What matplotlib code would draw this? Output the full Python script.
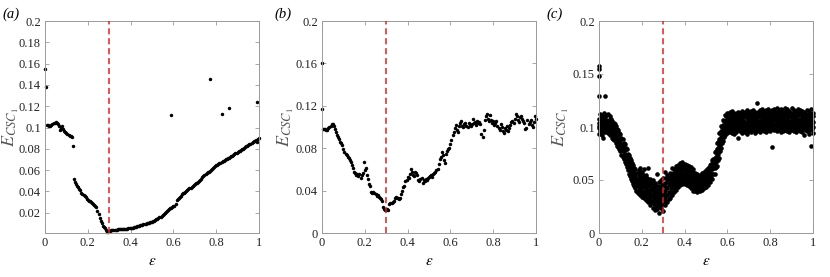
import numpy as np
import matplotlib
matplotlib.use("Agg")
import matplotlib.pyplot as plt

plt.rcParams['font.family'] = ['Liberation Serif', 'DejaVu Serif']
plt.rcParams['mathtext.fontset'] = 'stix'

# epsilon grid used for panels (a) and (b)
eps = np.round(np.linspace(0, 1, 201), 3)

# panel (a)
err_a = [0.155, 0.138, 0.102, 0.102, 0.101, 0.101, 0.102, 0.103, 0.104, 0.104,
         0.105, 0.104, 0.103, 0.101, 0.098, 0.100, 0.101, 0.099, 0.097, 0.096,
         0.095, 0.094, 0.093, 0.092, 0.092, 0.091, 0.083, 0.052, 0.049, 0.047,
         0.045, 0.044, 0.042, 0.041, 0.039, 0.038, 0.037, 0.036, 0.035, 0.033,
         0.032, 0.031, 0.031, 0.030, 0.029, 0.028, 0.027, 0.026, 0.025, 0.022,
         0.019, 0.015, 0.012, 0.010, 0.008, 0.007, 0.006, 0.004, 0.002, 0.0015,
         0.0030, 0.0031, 0.0035, 0.0036, 0.0039, 0.0040, 0.0041, 0.0042, 0.0044, 0.0045,
         0.0045, 0.0046, 0.0047, 0.0048, 0.0048, 0.0049, 0.0051, 0.0052, 0.0053, 0.0055,
         0.0056, 0.0058, 0.0060, 0.0063, 0.0066, 0.0069, 0.0072, 0.0076, 0.0079, 0.0082,
         0.0085, 0.0088, 0.0091, 0.0094, 0.0097, 0.0100, 0.0103, 0.0107, 0.0110, 0.0113,
         0.0116, 0.0121, 0.0126, 0.0131, 0.0137, 0.0143, 0.0149, 0.0156, 0.0163, 0.0170,
         0.0178, 0.0186, 0.0195, 0.0205, 0.0215, 0.0223, 0.0232, 0.0241, 0.0249, 0.0255,
         0.0260, 0.0268, 0.0285, 0.0318, 0.0325, 0.0335, 0.0350, 0.0362, 0.0372, 0.0382,
         0.0390, 0.0398, 0.0406, 0.0414, 0.0421, 0.0428, 0.0435, 0.0443, 0.0450, 0.0458,
         0.0466, 0.0475, 0.0484, 0.0493, 0.0502, 0.0512, 0.0521, 0.0531, 0.0541, 0.0551,
         0.0560, 0.0569, 0.0578, 0.0587, 0.0596, 0.0605, 0.0614, 0.0623, 0.0632, 0.0640,
         0.0647, 0.0652, 0.0660, 0.0665, 0.0671, 0.0676, 0.0682, 0.0688, 0.0694, 0.0700,
         0.0706, 0.0712, 0.0718, 0.0725, 0.0731, 0.0737, 0.0744, 0.0751, 0.0758, 0.0764,
         0.0770, 0.0776, 0.0783, 0.0790, 0.0797, 0.0803, 0.0810, 0.0817, 0.0823, 0.0830,
         0.0837, 0.0843, 0.0850, 0.0857, 0.0864, 0.0871, 0.0878, 0.0886, 0.0862, 0.0895,
         0.0906]
out_a_x = [0.59, 0.77, 0.825, 0.86, 0.99]
out_a_y = [0.112, 0.146, 0.113, 0.118, 0.124]

# panel (b)
err_b = [0.117, 0.098, 0.098, 0.098, 0.097, 0.097, 0.099, 0.100, 0.101, 0.103,
         0.103, 0.101, 0.098, 0.095, 0.092, 0.091, 0.089, 0.086, 0.085, 0.083,
         0.079, 0.076, 0.075, 0.074, 0.072, 0.071, 0.069, 0.067, 0.064, 0.061,
         0.058, 0.057, 0.055, 0.056, 0.054, 0.056, 0.052, 0.055, 0.057, 0.067,
         0.059, 0.061, 0.055, 0.051, 0.046, 0.044, 0.039, 0.038, 0.039, 0.038,
         0.037, 0.035, 0.036, 0.034, 0.033, 0.032, 0.030, 0.025, 0.023, 0.022,
         0.022, 0.023, 0.022, 0.027, 0.028, 0.028, 0.029, 0.030, 0.033, 0.034,
         0.033, 0.033, 0.032, 0.033, 0.037, 0.040, 0.043, 0.044, 0.049, 0.050,
         0.053, 0.052, 0.056, 0.060, 0.058, 0.055, 0.054, 0.058, 0.057, 0.055,
         0.050, 0.049, 0.051, 0.052, 0.047, 0.050, 0.049, 0.051, 0.050, 0.052,
         0.053, 0.054, 0.055, 0.053, 0.056, 0.057, 0.058, 0.059, 0.060, 0.065,
         0.070, 0.072, 0.076, 0.074, 0.069, 0.066, 0.075, 0.077, 0.079, 0.080,
         0.084, 0.088, 0.092, 0.095, 0.099, 0.102, 0.097, 0.095, 0.101, 0.104,
         0.106, 0.101, 0.100, 0.103, 0.104, 0.101, 0.100, 0.104, 0.102, 0.101,
         0.103, 0.108, 0.104, 0.105, 0.102, 0.106, 0.104, 0.105, 0.103, 0.093,
         0.091, 0.097, 0.107, 0.110, 0.112, 0.108, 0.106, 0.111, 0.107, 0.104,
         0.106, 0.102, 0.104, 0.106, 0.101, 0.099, 0.097, 0.103, 0.100, 0.096,
         0.094, 0.099, 0.097, 0.101, 0.096, 0.099, 0.102, 0.105, 0.106, 0.104,
         0.108, 0.112, 0.110, 0.107, 0.105, 0.109, 0.110, 0.108, 0.106, 0.104,
         0.098, 0.099, 0.107, 0.103, 0.105, 0.107, 0.102, 0.100, 0.105, 0.110,
         0.108]
out_b_x = [0.0]
out_b_y = [0.160]

# panel (c): several realisations per epsilon value
eps_c = np.round(np.linspace(0, 1, 101), 2)
err_c = [
    [0.093, 0.099, 0.104, 0.108, 0.101], [0.094, 0.100, 0.105, 0.110, 0.097],
    [0.096, 0.101, 0.107, 0.111, 0.090], [0.095, 0.100, 0.104, 0.109, 0.098],
    [0.094, 0.099, 0.105, 0.112, 0.101], [0.092, 0.097, 0.103, 0.110, 0.100],
    [0.090, 0.095, 0.101, 0.106, 0.098], [0.088, 0.093, 0.099, 0.104, 0.096],
    [0.085, 0.090, 0.096, 0.101, 0.093], [0.081, 0.086, 0.092, 0.097, 0.089],
    [0.077, 0.082, 0.088, 0.093, 0.085], [0.072, 0.077, 0.083, 0.089, 0.080],
    [0.067, 0.072, 0.078, 0.084, 0.075], [0.062, 0.067, 0.073, 0.079, 0.070],
    [0.056, 0.062, 0.068, 0.074, 0.065], [0.051, 0.057, 0.063, 0.069, 0.060],
    [0.046, 0.052, 0.058, 0.064, 0.055], [0.042, 0.048, 0.054, 0.060, 0.051],
    [0.038, 0.044, 0.050, 0.057, 0.047], [0.036, 0.042, 0.048, 0.055, 0.061],
    [0.034, 0.040, 0.046, 0.052, 0.058], [0.033, 0.039, 0.045, 0.051, 0.060],
    [0.031, 0.037, 0.043, 0.049, 0.055], [0.029, 0.035, 0.041, 0.047, 0.061],
    [0.026, 0.032, 0.038, 0.044, 0.051], [0.024, 0.030, 0.036, 0.042, 0.050],
    [0.022, 0.029, 0.035, 0.041, 0.047], [0.023, 0.029, 0.035, 0.041, 0.056],
    [0.019, 0.028, 0.034, 0.040, 0.048], [0.024, 0.030, 0.036, 0.042, 0.050],
    [0.021, 0.031, 0.037, 0.044, 0.052], [0.026, 0.033, 0.040, 0.047, 0.058],
    [0.029, 0.036, 0.042, 0.049, 0.055], [0.033, 0.039, 0.045, 0.051, 0.057],
    [0.036, 0.042, 0.048, 0.054, 0.061], [0.039, 0.045, 0.050, 0.056, 0.060],
    [0.041, 0.047, 0.052, 0.058, 0.063], [0.043, 0.049, 0.054, 0.059, 0.064],
    [0.045, 0.050, 0.055, 0.060, 0.066], [0.046, 0.051, 0.056, 0.061, 0.067],
    [0.046, 0.051, 0.056, 0.061, 0.065], [0.045, 0.050, 0.055, 0.060, 0.064],
    [0.044, 0.049, 0.054, 0.059, 0.063], [0.042, 0.047, 0.052, 0.057, 0.062],
    [0.040, 0.045, 0.050, 0.055, 0.060], [0.040, 0.044, 0.049, 0.053, 0.057],
    [0.039, 0.043, 0.048, 0.052, 0.056], [0.040, 0.044, 0.048, 0.052, 0.055],
    [0.041, 0.045, 0.049, 0.053, 0.057], [0.042, 0.046, 0.050, 0.054, 0.058],
    [0.043, 0.047, 0.051, 0.055, 0.059], [0.045, 0.049, 0.053, 0.057, 0.061],
    [0.048, 0.052, 0.056, 0.060, 0.064], [0.051, 0.056, 0.060, 0.065, 0.069],
    [0.056, 0.061, 0.066, 0.071, 0.076], [0.063, 0.069, 0.074, 0.079, 0.085],
    [0.071, 0.077, 0.083, 0.089, 0.094], [0.080, 0.086, 0.091, 0.096, 0.101],
    [0.087, 0.092, 0.097, 0.102, 0.107], [0.092, 0.097, 0.101, 0.106, 0.111],
    [0.094, 0.099, 0.103, 0.108, 0.113], [0.095, 0.100, 0.104, 0.109, 0.114],
    [0.094, 0.100, 0.105, 0.110, 0.115], [0.093, 0.099, 0.104, 0.108, 0.113],
    [0.095, 0.100, 0.104, 0.109, 0.112], [0.090, 0.099, 0.104, 0.108, 0.114],
    [0.096, 0.100, 0.105, 0.110, 0.113], [0.094, 0.099, 0.104, 0.109, 0.115],
    [0.095, 0.101, 0.105, 0.110, 0.114], [0.093, 0.100, 0.105, 0.109, 0.116],
    [0.096, 0.101, 0.106, 0.110, 0.114], [0.095, 0.100, 0.105, 0.111, 0.115],
    [0.097, 0.101, 0.106, 0.110, 0.116], [0.094, 0.100, 0.105, 0.109, 0.114],
    [0.096, 0.102, 0.107, 0.112, 0.123], [0.095, 0.101, 0.106, 0.111, 0.116],
    [0.097, 0.102, 0.107, 0.112, 0.117], [0.096, 0.101, 0.106, 0.110, 0.115],
    [0.095, 0.101, 0.107, 0.112, 0.116], [0.097, 0.102, 0.106, 0.111, 0.117],
    [0.096, 0.101, 0.106, 0.111, 0.115], [0.081, 0.100, 0.105, 0.110, 0.116],
    [0.097, 0.102, 0.107, 0.112, 0.117], [0.096, 0.101, 0.106, 0.111, 0.118],
    [0.097, 0.102, 0.106, 0.111, 0.116], [0.095, 0.101, 0.107, 0.112, 0.117],
    [0.096, 0.102, 0.107, 0.111, 0.116], [0.097, 0.101, 0.106, 0.112, 0.118],
    [0.096, 0.102, 0.107, 0.111, 0.117], [0.095, 0.101, 0.106, 0.110, 0.115],
    [0.097, 0.102, 0.107, 0.112, 0.118], [0.096, 0.101, 0.106, 0.111, 0.116],
    [0.095, 0.100, 0.105, 0.110, 0.115], [0.097, 0.102, 0.106, 0.111, 0.117],
    [0.096, 0.101, 0.107, 0.112, 0.116], [0.095, 0.100, 0.105, 0.110, 0.115],
    [0.092, 0.099, 0.104, 0.109, 0.114], [0.096, 0.101, 0.106, 0.111, 0.116],
    [0.093, 0.100, 0.105, 0.110, 0.115], [0.082, 0.099, 0.104, 0.109, 0.117],
    [0.094, 0.100, 0.105, 0.110, 0.113]]
# second batch of realisations, between the grid values above
eps_c2 = np.round(np.linspace(0.005, 0.995, 100), 3)
err_c2 = [
    [0.096, 0.102, 0.107, 0.112], [0.092, 0.097, 0.103, 0.108],
    [0.098, 0.104, 0.109, 0.113], [0.097, 0.102, 0.107, 0.111],
    [0.095, 0.101, 0.107, 0.104], [0.094, 0.099, 0.104, 0.108],
    [0.092, 0.097, 0.102, 0.089], [0.090, 0.095, 0.100, 0.103],
    [0.087, 0.092, 0.098, 0.082], [0.083, 0.088, 0.094, 0.079],
    [0.079, 0.084, 0.090, 0.074], [0.074, 0.079, 0.085, 0.070],
    [0.069, 0.074, 0.080, 0.065], [0.064, 0.070, 0.075, 0.059],
    [0.059, 0.065, 0.071, 0.054], [0.054, 0.060, 0.066, 0.049],
    [0.049, 0.055, 0.061, 0.044], [0.045, 0.051, 0.057, 0.040],
    [0.041, 0.047, 0.053, 0.059], [0.039, 0.045, 0.051, 0.057],
    [0.037, 0.043, 0.049, 0.055], [0.036, 0.042, 0.048, 0.054],
    [0.034, 0.040, 0.046, 0.052], [0.032, 0.038, 0.044, 0.050],
    [0.029, 0.035, 0.041, 0.047], [0.027, 0.033, 0.039, 0.045],
    [0.025, 0.032, 0.038, 0.044], [0.026, 0.032, 0.038, 0.044],
    [0.025, 0.031, 0.037, 0.043], [0.027, 0.033, 0.039, 0.046],
    [0.028, 0.034, 0.040, 0.046], [0.030, 0.036, 0.043, 0.052],
    [0.032, 0.039, 0.046, 0.052], [0.036, 0.042, 0.048, 0.054],
    [0.039, 0.045, 0.051, 0.057], [0.042, 0.048, 0.053, 0.058],
    [0.044, 0.050, 0.055, 0.061], [0.046, 0.052, 0.057, 0.062],
    [0.048, 0.053, 0.058, 0.063], [0.049, 0.054, 0.059, 0.064],
    [0.048, 0.053, 0.058, 0.063], [0.047, 0.052, 0.057, 0.062],
    [0.046, 0.051, 0.056, 0.061], [0.044, 0.049, 0.054, 0.059],
    [0.042, 0.047, 0.052, 0.057], [0.042, 0.046, 0.051, 0.055],
    [0.041, 0.045, 0.050, 0.054], [0.042, 0.046, 0.050, 0.054],
    [0.043, 0.047, 0.051, 0.055], [0.044, 0.048, 0.052, 0.056],
    [0.046, 0.050, 0.054, 0.058], [0.049, 0.053, 0.057, 0.061],
    [0.052, 0.056, 0.060, 0.065], [0.056, 0.061, 0.065, 0.070],
    [0.062, 0.067, 0.072, 0.077], [0.069, 0.075, 0.080, 0.086],
    [0.077, 0.083, 0.088, 0.094], [0.085, 0.090, 0.095, 0.100],
    [0.091, 0.096, 0.101, 0.106], [0.095, 0.100, 0.105, 0.110],
    [0.097, 0.102, 0.107, 0.112], [0.098, 0.103, 0.108, 0.113],
    [0.096, 0.102, 0.107, 0.111], [0.097, 0.103, 0.108, 0.112],
    [0.098, 0.102, 0.107, 0.113], [0.097, 0.103, 0.108, 0.112],
    [0.099, 0.103, 0.108, 0.113], [0.097, 0.102, 0.107, 0.112],
    [0.098, 0.103, 0.109, 0.113], [0.097, 0.103, 0.108, 0.112],
    [0.098, 0.104, 0.108, 0.113], [0.099, 0.103, 0.108, 0.114],
    [0.098, 0.104, 0.109, 0.113], [0.097, 0.103, 0.108, 0.112],
    [0.099, 0.104, 0.109, 0.114], [0.098, 0.103, 0.109, 0.113],
    [0.099, 0.104, 0.108, 0.114], [0.098, 0.104, 0.109, 0.113],
    [0.097, 0.103, 0.108, 0.114], [0.099, 0.104, 0.109, 0.113],
    [0.098, 0.103, 0.108, 0.114], [0.099, 0.104, 0.109, 0.113],
    [0.098, 0.103, 0.109, 0.114], [0.099, 0.104, 0.108, 0.113],
    [0.098, 0.104, 0.109, 0.114], [0.099, 0.103, 0.108, 0.113],
    [0.098, 0.104, 0.109, 0.114], [0.099, 0.104, 0.108, 0.113],
    [0.098, 0.103, 0.109, 0.114], [0.099, 0.104, 0.109, 0.113],
    [0.098, 0.103, 0.108, 0.113], [0.099, 0.104, 0.109, 0.114],
    [0.097, 0.102, 0.107, 0.112], [0.098, 0.103, 0.108, 0.113],
    [0.097, 0.103, 0.108, 0.112], [0.098, 0.102, 0.107, 0.113],
    [0.097, 0.103, 0.108, 0.112], [0.098, 0.102, 0.107, 0.111],
    [0.097, 0.103, 0.108, 0.113], [0.098, 0.102, 0.107, 0.112]]
out_c_x = [0.0, 0.0, 0.002, 0.0, 0.03]
out_c_y = [0.155, 0.158, 0.148, 0.129, 0.129]

eps_opt = 0.3

fig = plt.figure(figsize=(8.3, 2.77), dpi=100)
lefts = [45, 322, 599]
tags = ['(a)', '(b)', '(c)']
tag_x = [2, 274, 546]
axes = [fig.add_axes([l / 830, 44 / 277, 214 / 830, 212 / 277]) for l in lefts]

def style(ax, yticks, ylabels, ylim, lab_x):
    ax.set_xlim(0, 1)
    ax.set_ylim(*ylim)
    ax.set_xticks([0, 0.2, 0.4, 0.6, 0.8, 1])
    ax.set_xticklabels(['0', '0.2', '0.4', '0.6', '0.8', '1'])
    ax.set_yticks(yticks)
    ax.set_yticklabels(ylabels)
    ax.tick_params(direction='in', length=3, width=0.6, top=True, right=True,
                   labelsize=9, colors='#9a9a9a', labelcolor='#222222', pad=3)
    for s in ax.spines.values():
        s.set_color('#9a9a9a')
        s.set_linewidth(0.7)
    ax.set_xlabel(r'$\epsilon$', fontsize=11, labelpad=4)
    ax.set_ylabel(r'$E_{CSC_1}$', fontsize=13, color='#555555')
    ax.yaxis.set_label_coords(lab_x, 0.5)
    ax.axvline(eps_opt, color='#e02020', linestyle=(0, (4, 2.5)), lw=1.1, zorder=5)

dot = dict(color='black', mew=0, linestyle='none', clip_on=False)

ax = axes[0]
ax.plot(eps, err_a, 'o', ms=2.5, **dot)
ax.plot(out_a_x, out_a_y, 'o', ms=2.5, **dot)
style(ax, [0.02, 0.04, 0.06, 0.08, 0.1, 0.12, 0.14, 0.16, 0.18, 0.2],
      ['0.02', '0.04', '0.06', '0.08', '0.1', '0.12', '0.14', '0.16', '0.18', '0.2'],
      (0.001, 0.2), -0.11)

ax = axes[1]
ax.plot(eps, err_b, 'o', ms=2.5, **dot)
ax.plot(out_b_x, out_b_y, 'o', ms=2.5, **dot)
style(ax, [0, 0.04, 0.08, 0.12, 0.16, 0.2],
      ['0', '0.04', '0.08', '0.12', '0.16', '0.2'], (0, 0.2), -0.12)

ax = axes[2]
ax.plot(np.repeat(eps_c, 5), np.array(err_c).ravel(), 'o', ms=3.3, **dot)
ax.plot(np.repeat(eps_c2, 4), np.array(err_c2).ravel(), 'o', ms=3.3, **dot)
ax.plot(out_c_x, out_c_y, 'o', ms=3.3, **dot)
style(ax, [0, 0.05, 0.1, 0.15, 0.2],
      ['0', '0.05', '0.1', '0.15', '0.2'], (0, 0.2), -0.13)

for t, x in zip(tags, tag_x):
    fig.text(x / 830, 1 - 14 / 277, t, fontsize=10.5, style='italic',
             ha='left', va='center')

fig.savefig('out.png', dpi=100)
